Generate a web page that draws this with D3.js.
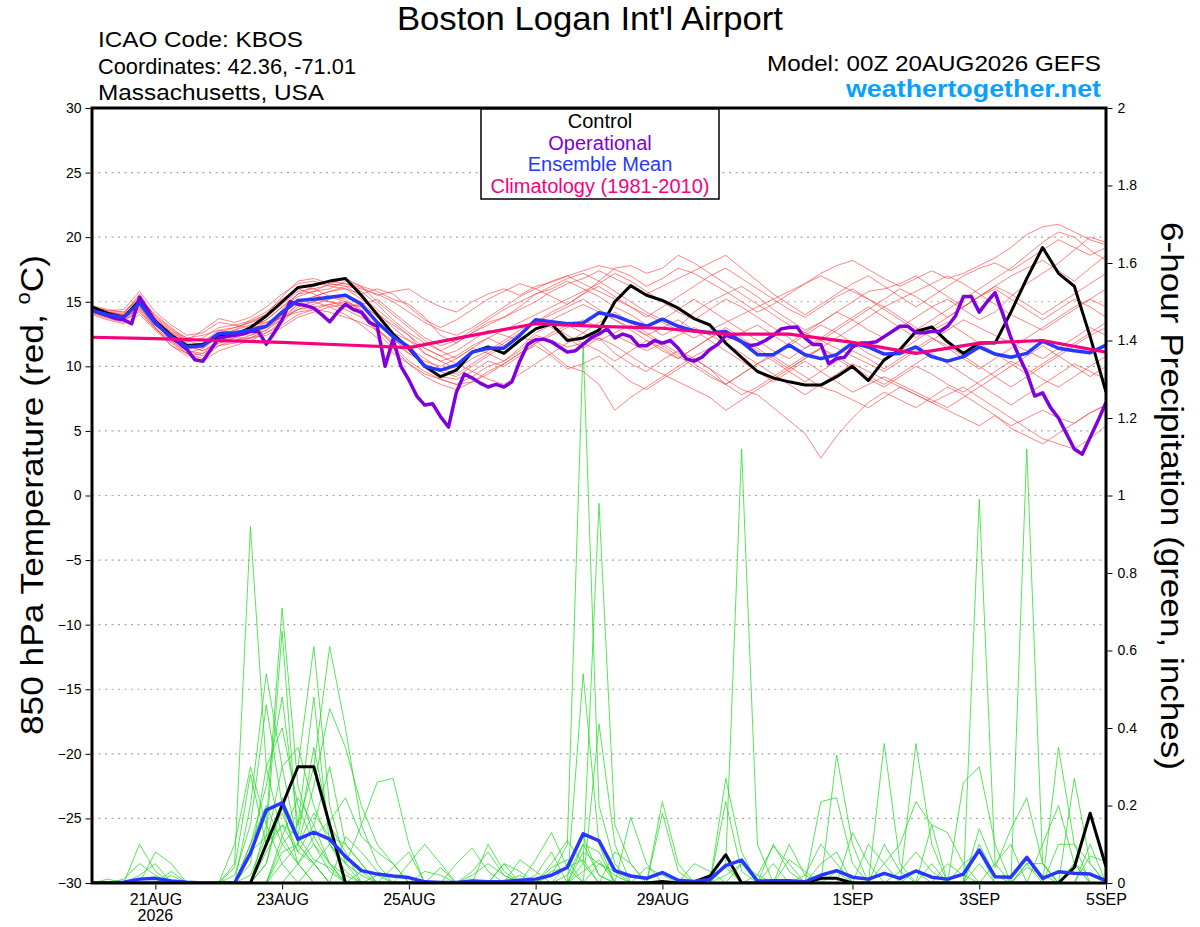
<!DOCTYPE html>
<html><head><meta charset="utf-8">
<script src="https://cdn.jsdelivr.net/npm/d3@7"></script>
<style>
body{margin:0;background:#fff}
svg{display:block}
text{font-family:"Liberation Sans",Arial,Helvetica,sans-serif}
</style>
</head><body>
<svg id="c" width="1200" height="927"></svg>
<script>
// ---------------- DATA ----------------
// 6-hourly steps from 00Z 20AUG2026 (65 steps), operational is 3-hourly (129 steps)
const dateTicks = ["2026-08-21","2026-08-23","2026-08-25","2026-08-27","2026-08-29","2026-09-01","2026-09-03","2026-09-05"];
const dateLabels = ["21AUG","23AUG","25AUG","27AUG","29AUG","1SEP","3SEP","5SEP"];
const tempTicks = [30,25,20,15,10,5,0,-5,-10,-15,-20,-25,-30];
const precipTicks = [0,0.2,0.4,0.6,0.8,1,1.2,1.4,1.6,1.8,2];

const controlTemp = [
14.6,14.1,13.8,15.1,13.5,12.4,11.6,11.7,12.3,12.4,
13.0,13.9,15.0,16.1,16.3,16.6,16.8,15.5,14.0,12.5,
11.4,10.0,9.2,9.7,11.1,11.5,11.0,12.0,12.9,13.3,
12.0,12.2,12.8,15.0,16.25,15.5,15.1,14.5,13.7,13.2,
11.8,10.7,9.6,9.1,8.8,8.55,8.55,9.2,10.0,8.9,
10.5,11.3,12.7,13.05,11.9,11.0,11.8,11.8,14.2,16.8,
19.2,17.2,16.2,12.3,8.0];

const meanTemp = [
14.3,14.0,13.8,14.9,13.3,12.3,11.5,11.6,12.55,12.6,
12.8,13.1,14.2,15.1,15.2,15.35,15.5,14.8,13.4,12.3,
11.5,10.0,9.7,10.1,11.1,11.4,11.4,12.4,13.6,13.45,
13.3,13.35,14.15,13.9,13.45,13.1,13.65,13.1,12.75,12.6,
12.7,11.9,10.9,10.9,11.65,10.9,10.6,10.9,11.8,11.5,
10.95,11.0,11.5,10.75,10.4,10.75,11.5,10.95,10.7,11.0,
11.95,11.4,11.2,11.05,11.65];

const operationalTemp = [
14.35,14.1,13.9,13.7,13.6,13.3,15.35,14.4,13.45,12.8,
12.2,11.8,11.3,10.5,10.4,11.3,12.2,12.3,12.4,12.5,
12.7,12.7,11.7,12.6,13.6,15.0,14.8,14.7,14.5,14.0,
13.45,14.2,14.8,14.4,14.2,13.4,13.1,10.0,12.1,10.0,
8.95,7.7,7.0,7.1,6.1,5.3,8.0,9.4,9.1,8.7,
8.4,8.6,8.4,8.8,10.4,11.7,12.05,12.1,11.9,11.5,
11.1,11.2,11.7,12.2,12.5,12.9,12.2,12.5,12.3,11.6,
11.6,12.0,11.8,12.0,11.4,10.6,10.4,10.7,11.3,11.7,
12.4,12.2,11.9,11.6,11.7,12.0,12.4,12.9,13.0,13.05,
12.2,11.7,11.7,10.2,10.6,10.7,11.5,11.8,11.8,11.9,
12.3,12.7,13.1,13.1,12.6,12.6,12.7,12.7,13.1,13.9,
15.4,15.4,14.2,15.0,15.7,14.0,12.2,10.8,9.5,7.7,
7.95,6.8,6.0,4.8,3.6,3.2,4.5,5.8,7.2];

// daily climatology (00Z each day)
const climatologyTemp = [12.25,12.15,12.0,11.85,11.65,11.45,12.4,13.3,13.1,12.95,12.5,12.5,11.85,11.0,11.8,12.0,11.1];

const memberTemps = [
[14.6,14.2,14.0,15.6,13.8,12.8,11.9,12.2,13.0,13.2,13.5,14.0,15.0,16.2,16.0,16.3,16.4,16.1,15.5,15.8,16.0,15.2,14.6,14.2,15.0,15.6,16.0,15.5,16.2,16.5,17.0,17.4,17.8,17.5,17.0,16.2,16.8,17.6,17.2,16.5,15.8,15.0,14.2,14.8,15.6,16.4,17.2,17.8,18.2,17.5,16.8,16.2,16.8,17.4,16.8,17.2,17.8,18.4,19.2,20.2,20.8,21.0,20.4,19.8,19.4],
[14.2,13.8,13.6,14.6,13.0,12.0,11.0,10.6,11.6,12.0,12.2,12.8,13.6,14.8,15.0,14.6,14.0,13.2,12.2,11.0,10.2,9.4,9.0,8.6,9.2,10.0,10.4,11.2,12.4,12.0,11.5,11.8,12.2,11.0,10.2,9.6,10.5,11.2,10.6,9.8,9.0,8.2,7.8,6.8,5.8,4.8,2.9,4.6,6.0,7.2,8.0,7.4,6.8,7.6,8.4,7.8,7.0,6.2,5.4,6.0,6.6,6.0,5.6,6.4,7.0],
[14.4,14.1,13.9,15.0,13.6,12.6,11.8,11.4,12.2,12.4,12.6,13.0,14.4,15.6,15.8,16.0,16.6,16.2,15.8,15.2,14.8,13.8,12.4,11.8,12.6,13.4,13.8,14.6,15.6,16.0,16.6,16.0,15.4,14.6,14.0,13.2,12.4,13.0,14.2,15.0,15.6,16.2,15.4,14.4,13.6,12.8,13.4,14.2,13.6,12.8,12.2,13.0,13.8,14.6,15.2,14.4,13.6,14.2,15.4,16.4,17.2,18.0,19.0,20.0,19.6],
[14.3,14.0,13.5,14.3,12.9,11.8,11.0,10.4,11.2,11.6,12.0,12.6,13.4,14.6,15.0,15.4,15.2,14.2,12.6,11.4,10.2,9.2,8.6,8.2,8.8,9.6,10.2,11.0,11.6,10.8,9.8,10.2,10.8,9.8,8.8,8.2,9.0,9.8,10.6,9.8,8.6,7.8,8.4,9.2,10.0,10.8,11.4,10.6,9.8,9.0,8.4,9.2,10.0,9.4,8.6,8.0,8.8,9.6,10.4,9.8,9.0,8.4,9.2,10.0,10.8],
[14.5,14.2,14.1,15.3,13.9,12.9,12.2,12.0,12.6,13.0,13.4,13.8,14.8,15.8,16.0,15.4,15.0,14.6,14.0,13.2,12.4,11.0,10.4,10.8,11.6,12.2,12.8,13.4,14.0,14.6,15.2,15.8,16.4,17.2,16.6,15.8,15.0,14.2,13.6,14.4,15.2,14.6,13.8,13.0,12.2,11.4,12.0,12.8,13.6,14.4,15.2,16.0,15.4,14.6,13.8,14.6,15.4,16.2,15.6,14.8,14.0,14.8,15.6,16.4,17.2],
[14.1,13.7,13.4,14.6,13.2,12.2,11.2,10.8,11.8,12.0,12.4,13.0,13.8,14.4,14.8,15.2,15.6,15.0,13.8,12.4,11.2,10.0,9.2,9.0,9.6,10.4,10.0,10.8,11.8,12.6,13.2,12.6,12.0,12.6,13.2,12.4,11.6,10.8,10.0,9.2,8.6,9.4,10.2,10.8,10.0,9.2,8.4,8.0,7.4,6.8,7.6,8.4,7.8,7.2,6.6,6.0,5.4,6.2,5.2,4.6,4.0,4.8,5.6,6.4,7.0],
[14.6,14.3,14.4,15.8,14.2,13.2,12.4,12.6,13.4,13.2,13.0,13.6,14.6,15.4,15.8,16.4,16.8,16.2,15.0,14.0,13.0,12.0,11.2,10.6,11.4,12.2,11.6,12.4,13.4,14.2,14.8,15.6,16.2,15.4,14.6,13.8,14.6,15.4,16.2,17.0,17.6,16.8,16.0,15.2,14.4,13.8,14.6,15.4,16.0,15.2,14.4,13.6,12.8,13.6,14.4,15.2,16.0,16.8,17.6,18.6,19.6,20.4,20.0,19.0,18.2],
[14.0,13.6,13.3,14.0,12.8,11.6,10.8,11.0,12.0,12.2,12.2,12.4,13.0,13.8,14.2,14.6,14.8,14.6,13.4,12.2,11.0,10.4,10.0,10.6,11.4,11.0,10.4,11.4,12.6,13.2,12.4,11.8,11.2,10.4,11.2,12.0,11.4,10.6,11.4,12.2,12.8,12.0,11.2,10.4,9.6,8.8,9.6,10.4,11.2,10.6,9.8,10.6,11.4,12.2,11.6,10.8,10.0,9.2,8.4,9.2,10.0,10.8,11.6,12.4,13.0],
[14.4,14.0,13.7,14.8,13.4,12.4,11.6,11.2,12.0,12.4,12.9,13.4,14.0,15.0,15.2,15.0,14.8,14.0,12.8,11.8,11.0,10.2,9.6,9.2,10.0,10.8,11.6,12.2,12.0,11.0,10.0,9.6,8.6,6.6,7.6,8.4,9.2,10.0,10.8,11.4,12.0,12.6,13.2,12.4,11.6,12.4,13.2,12.6,11.8,11.0,10.4,11.2,12.0,12.8,13.4,12.6,11.8,11.0,10.2,9.4,10.2,11.0,11.8,12.6,13.4],
[14.7,14.4,14.2,15.4,13.6,12.6,12.0,12.8,13.7,13.4,13.8,14.6,15.6,16.4,16.6,16.2,16.0,15.6,16.0,15.6,14.6,13.6,13.0,13.6,14.4,15.2,15.8,16.4,16.0,15.4,14.8,15.6,16.6,17.6,17.8,17.2,17.6,18.6,18.0,17.2,16.4,15.6,14.8,14.0,13.2,12.6,13.4,14.2,15.0,15.8,16.0,16.4,17.0,16.2,15.4,14.6,15.4,16.2,17.0,17.6,18.2,17.4,16.6,17.6,18.6],
[14.2,13.9,13.8,14.4,13.0,11.6,11.0,11.4,12.4,12.8,13.2,13.4,13.8,14.2,14.4,14.2,13.8,13.4,12.8,12.0,11.4,10.6,9.8,9.4,10.2,11.0,11.8,12.6,13.4,14.0,14.6,15.2,14.4,13.6,12.8,12.0,11.2,10.6,11.4,12.2,13.0,12.2,11.4,10.6,9.8,10.6,11.4,12.2,13.0,13.8,14.6,13.8,13.0,12.2,11.4,10.6,9.8,10.6,11.4,12.2,13.0,13.8,14.6,15.2,14.6],
[14.5,14.1,13.9,15.1,13.3,12.2,11.4,11.8,12.8,12.6,12.4,12.8,14.0,15.0,15.4,15.8,16.0,15.2,14.2,13.0,12.0,11.0,10.4,9.8,10.6,11.2,12.0,12.8,13.6,13.0,12.2,11.4,12.2,11.6,10.8,10.0,9.4,8.8,8.2,7.6,6.6,7.4,8.2,9.0,9.8,10.6,11.4,10.8,10.0,9.2,8.6,9.4,10.2,11.0,10.2,9.4,8.6,7.8,7.0,7.8,8.6,9.4,10.2,9.6,9.0],
[14.3,14.0,13.9,14.7,13.5,12.5,11.7,11.8,12.4,12.8,13.6,14.2,15.2,16.0,15.6,15.0,14.6,14.8,15.2,14.2,13.2,12.2,11.6,12.0,12.8,13.6,14.4,15.0,15.6,16.2,16.8,17.2,16.6,15.8,15.0,14.2,13.6,14.4,15.2,14.4,13.6,12.8,12.0,11.2,10.6,11.4,12.2,13.0,13.8,14.6,13.8,13.0,12.2,13.0,13.8,14.6,15.4,16.0,15.2,14.4,13.6,14.4,15.2,14.6,13.8],
[14.4,14.1,14.0,15.0,13.6,12.4,11.6,11.2,11.8,12.2,12.6,13.0,13.6,14.4,14.6,14.8,15.0,14.4,13.0,11.6,10.4,9.6,9.0,8.6,8.8,9.4,10.2,11.0,11.8,12.4,13.0,13.6,13.0,12.4,11.8,11.2,11.8,12.4,13.0,12.4,11.8,11.0,10.2,9.4,8.6,7.8,8.6,9.4,10.2,9.6,9.0,8.4,7.8,7.2,7.8,8.4,7.6,6.8,6.0,5.2,4.4,4.0,3.6,4.4,5.4],
[14.6,14.3,14.2,15.2,14.0,13.0,12.0,11.6,12.2,12.6,13.0,13.6,14.6,15.6,16.2,16.6,16.4,15.8,14.8,13.6,12.6,11.8,11.2,11.8,12.6,13.2,13.8,14.4,15.0,15.8,16.4,16.8,17.4,16.8,16.2,15.6,16.2,16.8,17.4,18.0,18.6,17.6,16.6,15.6,14.8,14.0,14.8,15.6,16.4,17.0,16.2,15.4,14.6,15.4,16.2,17.0,17.6,18.0,17.4,18.2,19.0,19.8,19.2,18.6,19.2],
[14.2,13.9,13.6,14.2,12.9,11.9,11.2,11.0,11.6,11.8,12.2,12.6,13.2,14.0,14.4,14.8,14.4,13.8,13.2,12.6,12.0,11.4,10.8,10.2,9.6,9.0,8.6,9.4,10.2,11.0,11.8,12.6,13.4,14.2,13.4,12.6,11.8,11.0,10.2,9.4,8.6,9.4,10.2,11.0,11.8,12.6,12.0,11.4,10.8,10.2,9.6,10.4,11.2,12.0,12.8,13.6,13.0,12.4,11.8,11.2,10.6,11.4,12.2,13.0,12.4],
[14.5,14.2,13.9,14.9,13.7,12.7,12.2,12.4,12.8,13.0,13.4,14.0,15.4,16.6,16.8,16.4,16.2,16.0,15.6,15.0,14.2,13.4,12.8,12.4,13.0,13.8,14.6,15.4,16.0,16.6,17.0,16.4,15.8,15.2,14.6,14.0,13.4,12.8,12.2,12.8,13.4,14.0,14.6,15.2,15.8,16.4,17.0,16.4,15.8,15.2,14.6,15.2,15.8,16.4,17.0,16.4,15.6,14.8,14.0,13.4,12.8,13.6,14.4,15.2,16.0],
[14.3,13.9,13.7,14.5,13.2,12.1,11.3,11.6,12.4,12.6,13.0,13.2,13.8,14.8,15.4,15.8,16.2,15.4,14.4,13.4,12.4,11.4,10.8,11.2,12.0,12.8,12.4,12.0,12.8,13.6,14.2,14.8,14.2,13.6,13.0,12.4,13.0,13.6,12.8,12.0,11.2,10.4,9.6,8.8,9.6,10.4,9.6,8.8,8.0,8.6,9.2,8.6,8.0,7.4,6.8,7.6,8.4,9.2,10.0,10.8,11.6,10.8,10.0,9.2,10.0]
];

const controlPrecip = [
0,0,0,0,0,0,0,0,0,0,
0,.1,.2,.3,.3,.15,0,0,0,0,
0,0,0,0,0,0,0,0,0,0,
0,0,0,0,0,0,.004,0,.003,.018,
.073,0,0,0,0,0,.012,.012,0,0,
0,0,0,0,0,0,0,0,0,0,
0,0,.04,.18,.042];

const meanPrecip = [
0,0,.002,.01,.012,.005,.002,0,0,0,
.077,.188,.207,.113,.131,.113,.068,.032,.023,.018,
.014,.003,.001,.001,.005,.003,.004,.007,.01,.02,
.04,.127,.109,.032,.018,.012,.027,.007,.004,.009,
.045,.059,.005,.006,.006,.003,.02,.032,.015,.01,
.025,.012,.031,.015,.01,.023,.085,.016,.015,.066,
.012,.029,.025,.023,.006];

const memberPrecip = [
[0,0,0,.02,.05,0,0,0,0,.05, .92,.3,.12,.05,.1,.03,0,0,0,0, 0,0,0,0,0,0,0,0,0,0, .05,.12,.02,0,0,0,0,0,0,0, 0,0,0,0,0,0,0,.03,0,0, .36,.05,0,0,0,0,.1,.02,0,0, 0,0,.05,0,0],
[0,.01,0,0,0,0,0,0,0,0, 0,.15,.71,.25,.12,.05,.02,0,0,0, 0,0,0,0,0,0,0,0,0,0, 0,.05,.98,.15,.05,0,0,0,0,0, .02,.05,0,0,0,0,0,0,0,0, 0,0,0,0,0,0,0,0,0,.04, .02,0,0,0,0],
[0,0,0,0,0,.03,0,0,0,0, .2,.54,.3,.1,.05,0,0,.03,0,0, 0,0,0,0,0,0,0,0,0,.02, .1,1.39,.2,.05,0,0,0,0,0,0, 0,0,0,0,0,0,0,0,0,0, 0,0,.03,0,0,0,0,0,0,0, 0,0,0,0,0],
[0,0,0,0,0,0,0,0,0,0, 0,.05,.2,.3,.61,.2,.05,.02,0,0, 0,0,0,0,.03,.08,.02,0,0,0, 0,.54,.1,0,0,0,0,0,0,0, 0,0,0,0,.1,.02,0,0,0,0, 0,0,0,0,0,0,.99,.05,0,0, 0,0,0,0,0],
[0,0,0,0,0,0,0,0,0,0, 0,0,.1,.15,.3,.61,.4,.15,.05,0, 0,0,0,0,0,0,.05,0,0,0, 0,0,.41,.1,0,0,0,0,0,0, .27,.08,0,0,0,0,0,0,0,0, 0,0,.36,.1,0,0,0,0,0,0, 0,0,0,0,0],
[0,0,0,0,0,0,0,0,0,0, .1,.25,.48,.15,.48,.1,.03,0,0,0, 0,0,.04,0,0,0,0,0,0,0, 0,.08,.05,.02,0,0,0,0,0,0, .05,1.12,.1,0,0,0,0,0,0,0, 0,0,0,0,0,0,0,0,0,.05, 0,0,0,0,0],
[0,0,0,.1,.03,0,0,0,0,.02, .15,.46,.2,.05,0,0,0,0,.02,0, 0,0,0,0,0,0,0,0,.06,.13, .04,0,0,0,0,0,0,0,0,0, 0,0,0,0,0,0,.21,.22,.05,0, 0,0,0,0,0,0,0,0,0,1.12, .05,0,0,0,0],
[0,0,0,0,.08,.05,0,0,0,0, 0,.1,.3,.35,.2,.1,.05,.15,.26,.27, .1,0,0,0,0,0,0,.02,0,0, 0,0,0,0,0,0,.21,.05,0,0, 0,0,0,0,0,0,0,0,0,0, 0,0,0,0,0,.26,.3,.1,0,0, 0,0,0,0,0],
[0,0,0,0,0,.02,0,0,0,0, .08,.12,.65,.1,.05,0,0,0,0,0, 0,0,0,.05,.09,.03,0,0,0,0, 0,0,0,0,.17,.05,0,0,0,0, .21,.03,0,0,0,0,0,0,0,0, .05,.1,.21,.15,0,0,0,0,0,0, 0,.35,.1,0,0],
[0,0,0,0,0,0,0,0,0,.04, .28,.1,.15,.08,.15,.3,.1,.05,0,0, 0,0,0,0,0,0,0,0,0,.05, .11,.05,0,0,0,0,0,0,0,0, 0,0,0,.1,.03,0,0,0,0,0, 0,0,0,.15,.13,.05,0,0,0,0, 0,0,.27,.05,0],
[0,0,0,0,0,0,0,0,0,0, 0,0,.05,.1,.25,.45,.35,.2,.1,.05, 0,0,0,0,0,0,0,0,.02,.08, 0,0,0,0,0,0,.18,.03,0,0, 0,0,0,0,0,0,0,.33,.1,0, 0,0,0,0,0,0,.14,.04,.14,.22, .05,0,0,0,0],
[0,0,0,0,0,0,0,0,0,0, .05,.3,.4,.2,.1,.05,0,0,0,0, .05,.1,.05,0,0,0,0,0,0,0, 0,.1,.02,0,0,0,0,0,0,0, 0,0,.02,.095,.05,0,0,0,0,.1, .05,0,0,0,0,0,0,0,0,0, 0,0,0,.07,.055],
[0,0,0,0,0,0,0,0,0,0, 0,.08,.15,.12,.35,.15,.08,0,0,0, 0,0,0,0,0,.1,.03,0,0,0, .02,.1,.08,0,0,0,0,0,0,0, 0,0,0,0,0,.02,.1,.05,0,0, 0,0,0,0,0,0,0,0,0,0, .1,.2,.05,0,0],
[0,0,0,0,0,0,0,0,0,0, .1,.2,.1,.05,0,0,.12,.08,.03,0, 0,0,0,0,0,0,0,.06,.03,0, 0,0,0,0,0,0,0,0,.05,.03, 0,0,0,0,0,0,0,0,.13,.05, 0,0,0,0,0,0,0,.05,.1,0, 0,0,0,0,0],
[0,0,0,0,0,0,0,0,0,0, 0,0,.12,.22,.15,.05,0,0,0,.04, .08,0,0,0,0,0,0,0,0,0, 0,0,0,.08,.05,0,0,0,0,0, .05,0,0,0,0,0,0,0,0,0, .1,.03,0,0,0,.05,.08,0,0,0, 0,0,0,.1,0],
[0,0,0,0,0,0,0,0,0,.1, .3,.15,.05,0,.05,.1,.05,0,0,0, 0,0,0,0,0,0,0,0,0,.03, .04,.06,0,0,0,0,0,0,0,0, 0,0,0,0,0,0,.05,.08,0,0, 0,0,0,0,.05,.02,0,0,0,0, 0,.1,.1,.05,0],
[0,0,.01,.05,.02,0,0,0,0,0, 0,0,.08,.1,.18,.12,.1,.05,0,0, 0,0,0,0,0,0,.05,.03,0,0, 0,0,.05,.03,0,0,0,0,0,0, 0,0,0,0,.06,.03,0,0,0,0, 0,0,0,.05,0,0,0,0,0,0, 0,0,0,0,0],
[0,0,0,0,0,0,0,0,0,0, 0,.05,.22,.12,.06,.04,0,0,0,0, 0,.03,.02,0,0,0,0,0,0,0, 0,0,0,0,0,.04,.02,0,0,0, 0,.05,.02,0,0,0,0,0,0,0, 0,0,0,0,0,0,.05,0,0,.05, .05,0,0,0,0],
[0,0,0,0,0,0,0,0,0,0, 0,0,0,.05,.12,.16,.22,.12,.08,.05, 0,0,0,0,0,0,0,0,0,.04, .06,0,0,0,0,0,0,0,0,.02, .04,0,0,0,0,0,0,0,0,0, 0,.03,.08,.03,0,0,0,0,0,0, 0,0,0,0,0],
[0,0,0,0,0,0,0,0,0,0, .02,.12,.18,.08,.05,0,0,0,0,0, 0,0,0,0,.02,.05,.02,0,0,0, 0,.03,.06,0,0,0,0,0,0,0, 0,0,0,.05,0,0,0,0,0,0, 0,0,0,0,0,0,0,0,0,0, 0,0,.05,.02,0]
];

// ---------------- CHART ----------------
const svg = d3.select("#c");
const P = {l:92, r:1106, t:108, b:883};
const HOUR = 3600e3;
const t0 = Date.UTC(2026,7,20,0);
const x = d3.scaleUtc().domain([new Date(t0), new Date(t0 + 384*HOUR)]).range([P.l, P.r]);
const yT = d3.scaleLinear().domain([-30,30]).range([P.b, P.t]);
const yP = d3.scaleLinear().domain([0,2]).range([P.b, P.t]);
const at = step => (d,i) => x(new Date(t0 + i*step*HOUR));

svg.append("rect").attr("width",1200).attr("height",927).attr("fill","#fff");
svg.append("defs").append("clipPath").attr("id","clip")
  .append("rect").attr("x",P.l).attr("y",P.t).attr("width",P.r-P.l).attr("height",P.b-P.t);

// grid
svg.append("g").selectAll("line").data(tempTicks.filter(v=>v>-30&&v<30)).join("line")
  .attr("x1",P.l).attr("x2",P.r).attr("y1",d=>yT(d)).attr("y2",d=>yT(d))
  .attr("stroke","#a8a8a8").attr("stroke-width",1.2).attr("stroke-dasharray","2,4.5");

const plot = svg.append("g").attr("clip-path","url(#clip)");
const line6T = d3.line().x(at(6)).y(d=>yT(d));
const line3T = d3.line().x(at(3)).y(d=>yT(d));
const line24T = d3.line().x(at(24)).y(d=>yT(d));
const line6P = d3.line().x(at(6)).y(d=>yP(d));

plot.append("g").selectAll("path").data(memberPrecip).join("path")
  .attr("d",line6P).attr("fill","none").attr("stroke","#22dd22").attr("stroke-width",0.9).attr("stroke-opacity",0.85);
plot.append("g").selectAll("path").data(memberTemps).join("path")
  .attr("d",line6T).attr("fill","none").attr("stroke","#ff3b3b").attr("stroke-width",0.9).attr("stroke-opacity",0.7);

plot.append("path").datum(controlPrecip).attr("d",line6P).attr("fill","none").attr("stroke","#000").attr("stroke-width",3).attr("stroke-linejoin","round");
plot.append("path").datum(meanPrecip).attr("d",line6P).attr("fill","none").attr("stroke","#2638ff").attr("stroke-width",3.5).attr("stroke-linejoin","round");

plot.append("path").datum(controlTemp).attr("d",line6T).attr("fill","none").attr("stroke","#000").attr("stroke-width",3).attr("stroke-linejoin","round");
plot.append("path").datum(operationalTemp).attr("d",line3T).attr("fill","none").attr("stroke","#8000dd").attr("stroke-width",3.5).attr("stroke-linejoin","round");
plot.append("path").datum(meanTemp).attr("d",line6T).attr("fill","none").attr("stroke","#2638ff").attr("stroke-width",3.5).attr("stroke-linejoin","round");
plot.append("path").datum(climatologyTemp).attr("d",line24T).attr("fill","none").attr("stroke","#f5007f").attr("stroke-width",3.2).attr("stroke-linejoin","round");

// axes
function styleAxis(g, size){
  g.select(".domain").remove();
  g.selectAll(".tick line").attr("stroke","#000").attr("stroke-width",1);
  g.selectAll(".tick text").attr("font-size",size).attr("fill","#000")
    .attr("font-family",'"Liberation Sans",Arial,sans-serif');
}
svg.append("g").attr("transform",`translate(${P.l-1.5},0)`)
  .call(d3.axisLeft(yT).tickValues(tempTicks).tickSize(5).tickPadding(4).tickFormat(d3.format("d")))
  .call(g=>styleAxis(g,14));
svg.append("g").attr("transform",`translate(${P.r+1.5},0)`)
  .call(d3.axisRight(yP).tickValues(precipTicks).tickSize(5).tickPadding(5).tickFormat(d3.format("~g")))
  .call(g=>styleAxis(g,14));
const tickDates = dateTicks.map(s=>new Date(s+"T00:00:00Z"));
svg.append("g").attr("transform",`translate(0,${P.b+1.5})`)
  .call(d3.axisBottom(x).tickValues(tickDates).tickSize(5).tickPadding(4).tickFormat((d,i)=>dateLabels[i]))
  .call(g=>styleAxis(g,16));
svg.append("text").attr("x",x(tickDates[0])).attr("y",921).attr("text-anchor","middle")
  .attr("font-size",16).text("2026");

// frame
svg.append("rect").attr("x",P.l).attr("y",P.t).attr("width",P.r-P.l).attr("height",P.b-P.t)
  .attr("fill","none").attr("stroke","#000").attr("stroke-width",3);

// legend
const lg = svg.append("g");
lg.append("rect").attr("x",481).attr("y",109).attr("width",238).attr("height",90)
  .attr("fill","#fff").attr("stroke","#000").attr("stroke-width",1.5);
const legendItems = [["Control","#000"],["Operational","#8000dd"],["Ensemble Mean","#2638ff"],["Climatology (1981-2010)","#f5007f"]];
lg.selectAll("text").data(legendItems).join("text")
  .attr("x",600).attr("y",(d,i)=>128+i*21.5).attr("text-anchor","middle")
  .attr("font-size",20).attr("fill",d=>d[1]).text(d=>d[0]);

// titles
function txt(xp, yp, s, size, anchor, len){
  const t = svg.append("text").attr("x",xp).attr("y",yp).attr("font-size",size)
    .attr("text-anchor",anchor).text(s);
  if (len) t.attr("textLength",len).attr("lengthAdjust","spacingAndGlyphs");
  return t;
}
txt(590,30,"Boston Logan Int'l Airport",33,"middle",386);
txt(98,47,"ICAO Code: KBOS",22,"start",205);
txt(98,74,"Coordinates: 42.36, -71.01",22,"start",258);
txt(98,100,"Massachusetts, USA",22,"start",226);
txt(1101,71,"Model: 00Z 20AUG2026 GEFS",22,"end",334);
txt(1101,97,"weathertogether.net",24,"end",255).attr("font-weight","bold").attr("fill","#0aa0ff");

// left axis title: main part stretched, with superscript degree "o"
const lt = svg.append("text").attr("transform","translate(43,495) rotate(-90)")
  .attr("text-anchor","middle").attr("font-size",32);
lt.append("tspan").text("850 hPa Temperature (red, ");
lt.append("tspan").attr("font-size",20).attr("dy",-13).text("o");
lt.append("tspan").attr("dy",13).text("C)");
lt.attr("textLength",480).attr("lengthAdjust","spacingAndGlyphs");

svg.append("text").attr("transform","translate(1161,496) rotate(90)")
  .attr("text-anchor","middle").attr("font-size",31)
  .attr("textLength",548).attr("lengthAdjust","spacingAndGlyphs")
  .text("6-hour Precipitation (green, inches)");
</script>
</body></html>
